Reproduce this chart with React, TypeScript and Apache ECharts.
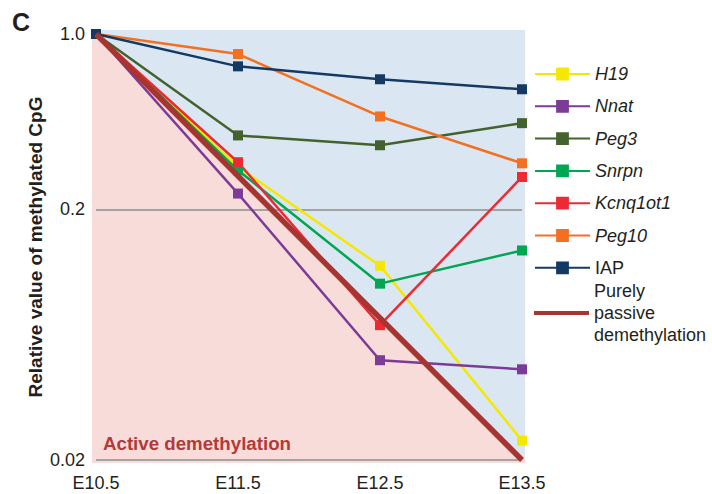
import React, { useEffect, useRef } from "react";
import * as echarts from "echarts";

const CATEGORIES = ["E10.5", "E11.5", "E12.5", "E13.5"];
const H19 = [1, 0.295, 0.119, 0.0239];
const NNAT = [1, 0.231, 0.05, 0.046];
const PEG3 = [1, 0.394, 0.36, 0.441];
const SNRPN = [1, 0.286, 0.101, 0.137];
const KCNQ1OT1 = [1, 0.308, 0.069, 0.269];
const PEG10 = [1, 0.832, 0.469, 0.305];
const IAP = [1, 0.743, 0.66, 0.602];
const PASSIVE = [1, 0.2714, 0.0737, 0.02];

const Y_TICKS = [0.02, 0.2, 1];
const Y_TICK_LABELS = ["0.02", "0.2", "1.0"];
const GRID_VALUES = [0.2, 0.02];

const GENES = [
  { name: "H19", data: H19, color: "#f5e800", italic: true },
  { name: "Nnat", data: NNAT, color: "#7b3b97", italic: true },
  { name: "Peg3", data: PEG3, color: "#44622d", italic: true },
  { name: "Snrpn", data: SNRPN, color: "#00a651", italic: true },
  { name: "Kcnq1ot1", data: KCNQ1OT1, color: "#ed2a34", italic: true },
  { name: "Peg10", data: PEG10, color: "#f37022", italic: true },
  { name: "IAP", data: IAP, color: "#143a64", italic: false },
];
const PASSIVE_NAME = "Purely passive demethylation";
const PASSIVE_COLOR = "#a8342f";

const FONT = "'Liberation Sans', Arial, Helvetica, sans-serif";
const TEXT = "#231f20";

export default function App() {
  const ref = useRef<HTMLDivElement>(null);
  useEffect(() => {
    document.body.style.margin = "0";
    if (!ref.current) return;
    const chart = echarts.init(ref.current, null, { renderer: "svg" });
    const geneSeries = GENES.map((g) => ({
      name: g.name,
      type: "line",
      data: g.data,
      color: g.color,
      symbol: "rect",
      symbolSize: 10,
      z: 3,
      lineStyle: { width: 2.5, color: g.color },
      itemStyle: { color: g.color },
    }));
    chart.setOption({
      animation: false,
      textStyle: { fontFamily: FONT },
      grid: { left: 96, right: 190, top: 34, bottom: 34 },
      graphic: [
        { type: "rect", z: -10, shape: { x: 92, y: 30, width: 433, height: 433 }, style: { fill: "#dae6f1" } },
        { type: "rect", z: -9, shape: { x: 92, y: 34, width: 4, height: 429 }, style: { fill: "#f8dcd9" } },
        { type: "rect", z: -9, shape: { x: 92, y: 460, width: 433, height: 3 }, style: { fill: "#f8dcd9" } },
        {
          type: "text",
          z: 10,
          x: 12,
          y: 22,
          style: { text: "C", fontSize: 25, fontWeight: "bold", fontFamily: FONT, fill: TEXT, verticalAlign: "middle" },
        },
        {
          type: "text",
          z: 10,
          x: 103,
          y: 443,
          style: {
            text: "Active demethylation",
            fontSize: 18.7,
            fontWeight: "bold",
            fontFamily: FONT,
            fill: "#b23a3a",
            verticalAlign: "middle",
          },
        },
      ],
      legend: [
        {
          orient: "vertical",
          left: 529,
          top: 60,
          itemWidth: 55,
          itemHeight: 16,
          itemGap: 14.3,
          selectedMode: false,
          textStyle: { fontSize: 18, color: TEXT, fontFamily: FONT },
          data: GENES.map((g) => ({
            name: g.name,
            textStyle: { fontStyle: g.italic ? "italic" : "normal" },
          })),
        },
        {
          orient: "vertical",
          left: 529,
          top: 275,
          itemWidth: 55,
          itemHeight: 4,
          selectedMode: false,
          formatter: () => "Purely\npassive\ndemethylation",
          textStyle: { fontSize: 18, color: TEXT, fontFamily: FONT, lineHeight: 22 },
          data: [{ name: PASSIVE_NAME, icon: "rect", itemStyle: { color: PASSIVE_COLOR } }],
        },
      ],
      xAxis: {
        type: "category",
        data: CATEGORIES,
        boundaryGap: false,
        axisLine: { show: false },
        axisTick: { show: false },
        splitLine: { show: false },
        axisLabel: { fontSize: 18, color: TEXT, fontFamily: FONT, margin: 14 },
      },
      yAxis: {
        type: "log",
        logBase: 5,
        min: 0.02,
        max: 1,
        axisLine: { show: false },
        axisTick: { show: false },
        splitLine: { show: false },
        axisLabel: {
          fontSize: 18,
          color: TEXT,
          fontFamily: FONT,
          margin: 11,
          formatter: (v: number) => {
            const i = Y_TICKS.findIndex((t) => Math.abs(t - v) / t < 1e-4);
            return i >= 0 ? Y_TICK_LABELS[i] : "";
          },
        },
        name: "Relative value of methylated CpG",
        nameLocation: "middle",
        nameGap: 51,
        nameMoveOverlap: false,
        nameTextStyle: { fontSize: 19, fontWeight: "bold", color: TEXT, fontFamily: FONT },
      },
      series: [
        {
          name: "active-area",
          type: "line",
          data: PASSIVE,
          symbol: "none",
          z: 1,
          silent: true,
          lineStyle: { width: 0, opacity: 0 },
          areaStyle: { color: "#f8dcd9", opacity: 1, origin: "start" },
          markLine: {
            z: 1.5,
            silent: true,
            symbol: "none",
            label: { show: false },
            lineStyle: { color: "#a3a3a3", width: 2, type: "solid" },
            data: GRID_VALUES.map((v) => ({ yAxis: v })),
          },
        },
        ...geneSeries,
        {
          name: PASSIVE_NAME,
          type: "line",
          data: PASSIVE,
          color: PASSIVE_COLOR,
          symbol: "none",
          z: 4,
          lineStyle: { width: 5.5, color: PASSIVE_COLOR },
          itemStyle: { color: PASSIVE_COLOR },
        },
      ],
    });
    return () => chart.dispose();
  }, []);
  return <div ref={ref} style={{ width: 712, height: 494 }} />;
}
